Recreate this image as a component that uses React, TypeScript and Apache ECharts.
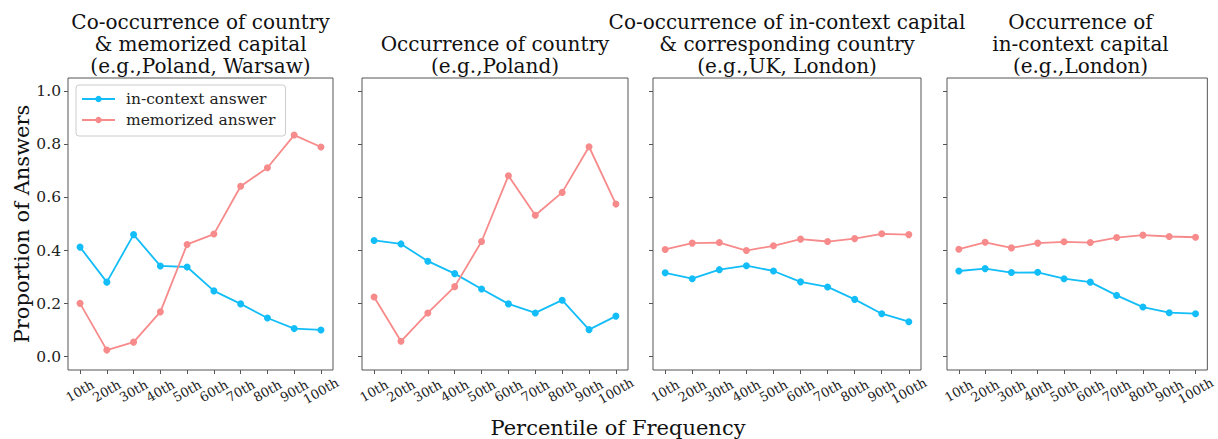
import React, { useEffect, useRef } from "react";
import * as echarts from "echarts";

const categories = ["10th", "20th", "30th", "40th", "50th", "60th", "70th", "80th", "90th", "100th"];
const yTicks = [0, 0.2, 0.4, 0.6, 0.8, 1.0];

const panelTitles = [
  "Co-occurrence of country\n& memorized capital\n(e.g.,Poland, Warsaw)",
  "Occurrence of country\n(e.g.,Poland)",
  "Co-occurrence of in-context capital\n& corresponding country\n(e.g.,UK, London)",
  "Occurrence of\nin-context capital\n(e.g.,London)",
];

const inContext1 = [0.413, 0.281, 0.46, 0.342, 0.338, 0.248, 0.199, 0.146, 0.106, 0.101];
const memorized1 = [0.201, 0.025, 0.055, 0.169, 0.423, 0.462, 0.642, 0.712, 0.835, 0.79];
const inContext2 = [0.438, 0.425, 0.36, 0.313, 0.255, 0.199, 0.165, 0.213, 0.102, 0.153];
const memorized2 = [0.225, 0.058, 0.165, 0.264, 0.434, 0.682, 0.533, 0.619, 0.791, 0.575];
const inContext3 = [0.316, 0.294, 0.328, 0.343, 0.323, 0.282, 0.263, 0.216, 0.162, 0.132];
const memorized3 = [0.404, 0.428, 0.43, 0.4, 0.418, 0.443, 0.434, 0.445, 0.463, 0.46];
const inContext4 = [0.323, 0.332, 0.317, 0.318, 0.294, 0.281, 0.231, 0.187, 0.166, 0.162];
const memorized4 = [0.405, 0.431, 0.41, 0.428, 0.433, 0.43, 0.449, 0.458, 0.453, 0.45];

const inContextSeries = [inContext1, inContext2, inContext3, inContext4];
const memorizedSeries = [memorized1, memorized2, memorized3, memorized4];

const FONT = "'DejaVu Serif', serif";
const BLUE = "#12bdf8";
const RED = "#f78a8a";

export default function App() {
  const ref = useRef<HTMLDivElement>(null);
  useEffect(() => {
    document.body.style.margin = "0";
    if (!ref.current) return;
    const chart = echarts.init(ref.current, undefined, { renderer: "svg" });
    const lefts = [68, 362, 653, 947];
    const widths = [265, 266, 268, 267];
    const top = 78;
    const height = 292;
    const idx = categories.map((_, i) => i);

    const grids = lefts.map((l, i) => ({
      left: l,
      top,
      width: widths[i],
      height,
      show: true,
      borderColor: "#555",
      borderWidth: 1,
      backgroundColor: "#fff",
    }));

    const xAxes = lefts.map((_, i) => ({
      type: "value",
      gridIndex: i,
      min: -0.45,
      max: 9.45,
      splitLine: { show: false },
      axisLine: { show: false, onZero: false },
      axisTick: { show: true, inside: false, customValues: idx, length: 4, lineStyle: { color: "#555" } },
      axisLabel: {
        customValues: idx,
        formatter: (v: number) => categories[Math.round(v)],
        rotate: 30,
        align: "center",
        verticalAlign: "middle",
        margin: 21,
        fontFamily: FONT,
        fontSize: 13,
        color: "#222",
      },
    }));

    const yAxes = lefts.map((_, i) => ({
      type: "value",
      gridIndex: i,
      min: -0.05,
      max: 1.05,
      splitLine: { show: false },
      axisLine: { show: false, onZero: false },
      axisTick: { show: true, inside: false, customValues: yTicks, length: 4, lineStyle: { color: "#555" } },
      axisLabel: {
        show: i === 0,
        customValues: yTicks,
        formatter: (v: number) => v.toFixed(1),
        margin: 7,
        fontFamily: FONT,
        fontSize: 15.5,
        color: "#222",
      },
    }));

    const series: any[] = [];
    lefts.forEach((_, i) => {
      series.push({
        type: "line",
        name: "in-context answer",
        xAxisIndex: i,
        yAxisIndex: i,
        data: inContextSeries[i].map((v, j) => [j, v]),
        symbol: "circle",
        symbolSize: 7,
        lineStyle: { color: BLUE, width: 1.8 },
        itemStyle: { color: BLUE },
      });
      series.push({
        type: "line",
        name: "memorized answer",
        xAxisIndex: i,
        yAxisIndex: i,
        data: memorizedSeries[i].map((v, j) => [j, v]),
        symbol: "circle",
        symbolSize: 7,
        lineStyle: { color: RED, width: 1.8 },
        itemStyle: { color: RED },
      });
    });

    const titleGraphics = panelTitles.map((t, i) => {
      const lines = t.split("\n").length;
      return {
        type: "text",
        x: lefts[i] + widths[i] / 2,
        y: 77 - lines * 22,
        style: {
          text: t,
          font: `20px ${FONT}`,
          fill: "#111",
          textAlign: "center",
          textVerticalAlign: "top",
          lineHeight: 22,
        },
      };
    });

    chart.setOption({
      animation: false,
      grid: grids,
      xAxis: xAxes,
      yAxis: yAxes,
      series,
      legend: {
        data: ["in-context answer", "memorized answer"],
        orient: "vertical",
        left: 76,
        top: 85,
        itemWidth: 33,
        itemHeight: 8,
        itemGap: 5,
        padding: [6, 10, 8, 5],
        borderColor: "#ccc",
        borderWidth: 1,
        borderRadius: 3,
        backgroundColor: "rgba(255,255,255,0.85)",
        textStyle: { fontFamily: FONT, fontSize: 15.5, color: "#222", padding: [0, 0, 0, 6] },
      },
      graphic: [
        ...titleGraphics,
        {
          type: "text",
          x: 22,
          y: 224,
          rotation: Math.PI / 2,
          style: {
            text: "Proportion of Answers",
            font: `21px ${FONT}`,
            fill: "#111",
            textAlign: "center",
            textVerticalAlign: "middle",
          },
        },
        {
          type: "text",
          x: 618,
          y: 428,
          style: {
            text: "Percentile of Frequency",
            font: `21px ${FONT}`,
            fill: "#111",
            textAlign: "center",
            textVerticalAlign: "middle",
          },
        },
      ],
    });
    return () => chart.dispose();
  }, []);
  return <div ref={ref} style={{ width: 1218, height: 439 }} />;
}
